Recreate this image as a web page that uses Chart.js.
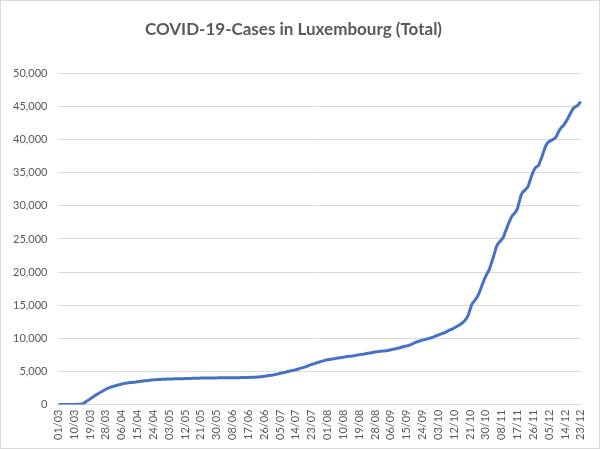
<!DOCTYPE html>
<html>
<head>
<meta charset="utf-8">
<script src="https://cdn.jsdelivr.net/npm/chart.js@4"></script>
<style>
  html, body { margin: 0; padding: 0; background: #fff; }
  #wrap { width: 600px; height: 449px; box-sizing: border-box; border: 1px solid #d9d9d9; position: relative; }
</style>
</head>
<body>
<div id="wrap"><canvas id="chart"></canvas></div>
<script>
/* ── Data: cumulative cases per day ── */
const TITLE = 'COVID-19-Cases in Luxembourg (Total)';

const monthNums = ['03','04','05','06','07','08','09','10','11','12'];

const marCases = [0,0,0,0,0,0,2,3,5,7,7,26,34,51,120,300,480,660,850,1020,1200,1380,1550,1700,1850,2000,2150,2300,2450,2550,2650];
const aprCases = [2720,2800,2880,2950,3020,3100,3150,3200,3260,3300,3320,3340,3370,3400,3440,3480,3520,3550,3570,3590,3640,3680,3700,3720,3740,3760,3780,3790,3805,3820];
const mayCases = [3830,3840,3850,3858,3866,3874,3880,3888,3894,3900,3908,3915,3923,3930,3945,3948,3958,3971,3980,3981,3990,3993,3995,3999,4000,4008,4012,4016,4018,4020,4022];
const junCases = [4024,4026,4028,4030,4032,4035,4038,4040,4043,4046,4050,4055,4060,4065,4072,4080,4090,4100,4110,4120,4130,4150,4170,4200,4230,4260,4290,4330,4370,4410];
const julCases = [4450,4510,4570,4630,4700,4760,4820,4880,4950,5010,5070,5130,5190,5250,5330,5410,5490,5570,5650,5750,5850,5950,6050,6130,6210,6300,6390,6470,6550,6620,6700];
const augCases = [6760,6800,6840,6880,6930,6980,7030,7070,7100,7140,7190,7240,7280,7300,7330,7370,7420,7480,7530,7570,7600,7640,7690,7740,7790,7830,7880,7920,7950,7990,8030];
const sepCases = [8060,8090,8120,8160,8200,8260,8320,8380,8440,8490,8560,8640,8720,8790,8860,8920,9000,9120,9250,9380,9480,9560,9640,9720,9800,9860,9920,10000,10080,10180];
const octCases = [10300,10400,10500,10600,10700,10800,10900,11050,11200,11300,11400,11550,11700,11850,12000,12200,12400,12650,13000,13500,14300,15100,15500,15800,16200,16700,17400,18100,18800,19400,19900];
const novCases = [20400,21200,22000,22900,23800,24300,24600,24900,25300,26000,26700,27400,28000,28500,28800,29100,29600,30600,31600,32100,32300,32600,32900,33700,34500,35200,35700,35950,36100,36800];
const decCases = [37500,38300,39000,39500,39700,39850,40000,40150,40400,41000,41500,41850,42100,42500,42900,43400,43900,44400,44800,45000,45100,45400,45750];

const yTicks = [0,5000,10000,15000,20000,25000,30000,35000,40000,45000,50000];
const LABEL_EVERY = 9;

/* ── Build labels + series from the monthly arrays ── */
const monthly = [marCases,aprCases,mayCases,junCases,julCases,augCases,sepCases,octCases,novCases,decCases];
const labels = [];
const cases = [];
monthly.forEach((arr, m) => {
  arr.forEach((v, d) => {
    labels.push(String(d + 1).padStart(2, '0') + '/' + monthNums[m]);
    cases.push(v);
  });
});

const C = {
  line:  '#4472c4',
  text:  '#595959',
  grid:  '#d9d9d9',
};
const FONT = "Lato, 'Open Sans', sans-serif";

new Chart(document.getElementById('chart').getContext('2d'), {
  type: 'line',
  data: {
    labels: labels,
    datasets: [{
      data: cases,
      borderColor: C.line,
      borderWidth: 3,
      pointRadius: 0,
      tension: 0,
      fill: false,
    }],
  },
  options: {
    responsive: true,
    maintainAspectRatio: false,
    animation: false,
    layout: { padding: { left: 1, right: 14, top: 0, bottom: 3 } },
    plugins: {
      legend: { display: false },
      tooltip: { enabled: false },
      title: {
        display: true,
        text: TITLE,
        color: C.text,
        font: { family: FONT, size: 17, weight: 'bold' },
        padding: { top: 18, bottom: 34 },
      },
    },
    scales: {
      x: {
        offset: false,
        grid: { display: false, drawTicks: false },
        border: { display: true, color: C.grid, width: 1 },
        ticks: {
          autoSkip: false,
          maxRotation: 90,
          minRotation: 90,
          padding: 5,
          color: C.text,
          font: { family: FONT, size: 11 },
          callback: (v, i) => (i % LABEL_EVERY === 0 ? labels[i] : null),
        },
      },
      y: {
        min: yTicks[0],
        max: yTicks[yTicks.length - 1],
        afterBuildTicks: (axis) => { axis.ticks = yTicks.map(v => ({ value: v })); },
        grid: { color: C.grid, lineWidth: 1, drawTicks: false },
        border: { display: false },
        ticks: {
          padding: 11,
          color: C.text,
          font: { family: FONT, size: 11 },
          callback: (v) => v.toLocaleString('en-US'),
        },
      },
    },
  },
});
</script>
</body>
</html>
